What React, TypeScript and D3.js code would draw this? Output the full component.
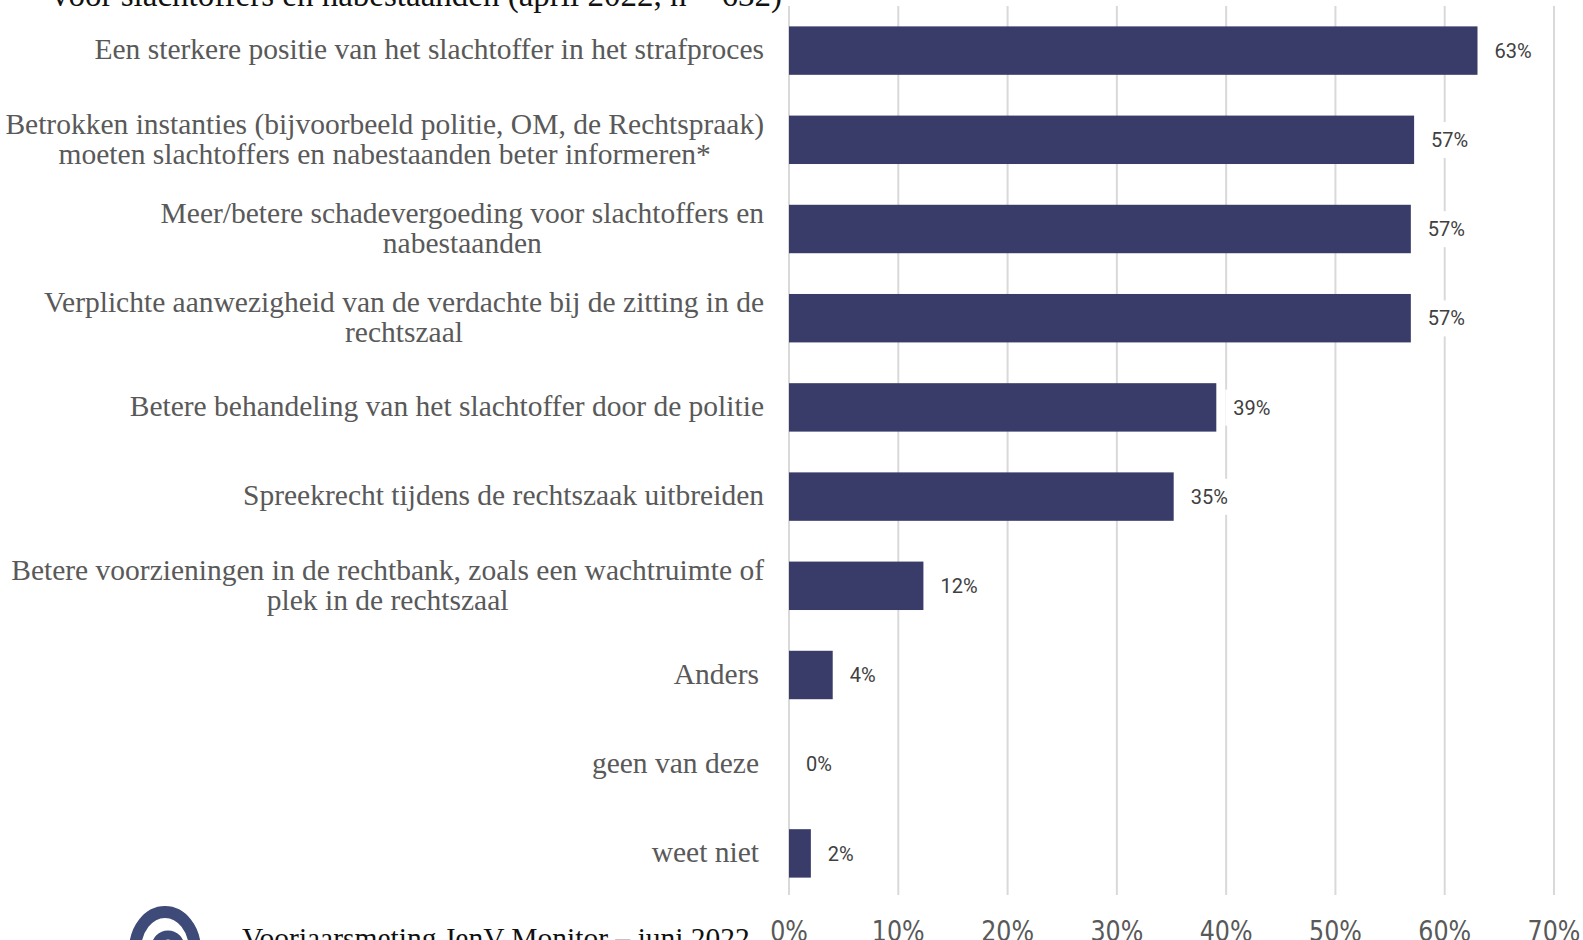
import React, { useEffect, useRef } from "react";
import * as d3 from "d3";

const categories: string[] = [
  "Een sterkere positie van het slachtoffer in het strafproces",
  "Betrokken instanties (bijvoorbeeld politie, OM, de Rechtspraak)\nmoeten slachtoffers en nabestaanden beter informeren*",
  "Meer/betere schadevergoeding voor slachtoffers en\nnabestaanden",
  "Verplichte aanwezigheid van de verdachte bij de zitting in de\nrechtszaal",
  "Betere behandeling van het slachtoffer door de politie",
  "Spreekrecht tijdens de rechtszaak uitbreiden",
  "Betere voorzieningen in de rechtbank, zoals een wachtruimte of\nplek in de rechtszaal",
  "Anders",
  "geen van deze",
  "weet niet",
];
const values: number[] = [0.63, 0.572, 0.569, 0.569, 0.391, 0.352, 0.123, 0.04, 0, 0.02];
const valueLabels: string[] = ["63%", "57%", "57%", "57%", "39%", "35%", "12%", "4%", "0%", "2%"];
const ticks: number[] = [0, 0.1, 0.2, 0.3, 0.4, 0.5, 0.6, 0.7];
const titleText = "voor slachtoffers en nabestaanden (april 2022, n = 632)";
const footerText = "Voorjaarsmeting JenV Monitor – juni 2022";

const W = 1583;
const H = 940;

export default function App() {
  const ref = useRef<SVGSVGElement | null>(null);

  useEffect(() => {
    const svg = d3.select(ref.current);
    svg.selectAll("*").remove();

    const x = d3.scaleLinear().domain([0, 0.7]).range([789, 1554]);
    const y = d3
      .scaleBand<string>()
      .domain(categories)
      .range([6, 898])
      .paddingInner(0.457)
      .paddingOuter(0.2285);

    // gridlines
    svg
      .append("g")
      .selectAll("line")
      .data(ticks)
      .join("line")
      .attr("x1", (d) => x(d))
      .attr("x2", (d) => x(d))
      .attr("y1", 6)
      .attr("y2", 895)
      .attr("stroke", "#d9d9d9")
      .attr("stroke-width", 2);

    // bars
    svg
      .append("g")
      .selectAll("rect")
      .data(values)
      .join("rect")
      .attr("x", x(0))
      .attr("y", (_, i) => y(categories[i])!)
      .attr("width", (d) => x(d) - x(0))
      .attr("height", y.bandwidth())
      .attr("fill", "#393c68");

    // value labels with white background
    const vl = svg.append("g");
    values.forEach((v, i) => {
      const cy = y(categories[i])! + y.bandwidth() / 2;
      const tx = x(v) + 17;
      const t = vl
        .append("text")
        .attr("x", tx)
        .attr("y", cy)
        .attr("dy", "0.36em")
        .attr("font-family", "Roboto, sans-serif")
        .attr("font-size", 20)
        .attr("fill", "#404040")
        .text(valueLabels[i]);
      const bb = (t.node() as SVGTextElement).getBBox();
      vl.insert("rect", "text")
        .attr("x", bb.x - 8)
        .attr("y", bb.y - 6)
        .attr("width", bb.width + 16)
        .attr("height", bb.height + 12)
        .attr("fill", "#ffffff");
    });

    // category labels
    const lg = svg.append("g");
    const rightEdge = 764;
    categories.forEach((c) => {
      const lines = c.split("\n");
      const cy = y(c)! + y.bandwidth() / 2;
      const lh = 30;
      const g = lg.append("g");
      const texts = lines.map((ln, j) =>
        g
          .append("text")
          .attr("y", cy + (j - (lines.length - 1) / 2) * lh)
          .attr("dy", "0.3em")
          .attr("font-family", "'Liberation Serif', serif")
          .attr("font-size", 29.5)
          .attr("fill", "#595959")
          .attr("text-anchor", "middle")
          .text(ln)
      );
      const maxW = d3.max(texts, (t) => (t.node() as SVGTextElement).getComputedTextLength()) || 0;
      const cx = (c === "Anders" || c === "geen van deze" || c === "weet niet" ? rightEdge - 5 : rightEdge) - maxW / 2;
      texts.forEach((t) => t.attr("x", cx));
    });

    // tick labels (condensed)
    svg
      .append("g")
      .selectAll("text")
      .data(ticks)
      .join("text")
      .attr("transform", (d) => `translate(${x(d)},941) scale(0.85,1)`)
      .attr("text-anchor", "middle")
      .attr("font-family", "'DejaVu Sans', sans-serif")
      .attr("font-size", 28)
      .attr("fill", "#595959")
      .text((d) => d3.format(".0%")(d));

    // title (partially cut)
    svg
      .append("text")
      .attr("x", 52)
      .attr("y", 6)
      .attr("font-family", "'Liberation Serif', serif")
      .attr("font-size", 33)
      .attr("fill", "#111111")
      .text(titleText);

    // footer logo
    const logo = svg.append("g");
    logo
      .append("ellipse")
      .attr("cx", 165)
      .attr("cy", 950)
      .attr("rx", 30)
      .attr("ry", 38)
      .attr("fill", "none")
      .attr("stroke", "#3e4a78")
      .attr("stroke-width", 12);
    logo
      .append("circle")
      .attr("cx", 168)
      .attr("cy", 947)
      .attr("r", 12)
      .attr("fill", "none")
      .attr("stroke", "#3e4a78")
      .attr("stroke-width", 9);

    svg
      .append("text")
      .attr("x", 242)
      .attr("y", 948)
      .attr("font-family", "'Liberation Serif', serif")
      .attr("font-size", 29.5)
      .attr("fill", "#111111")
      .text(footerText);
  }, []);

  return (
    <svg
      ref={ref}
      width={W}
      height={H}
      style={{ position: "absolute", left: 0, top: 0, background: "#fff" }}
    />
  );
}
